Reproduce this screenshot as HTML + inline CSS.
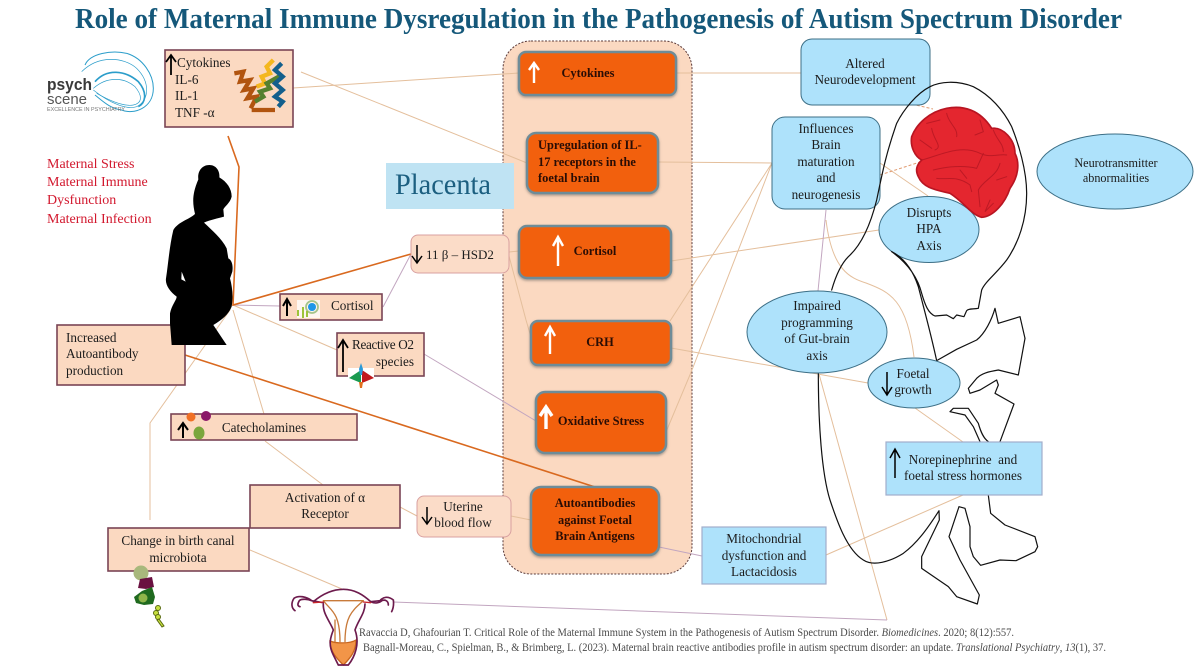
<!DOCTYPE html>
<html><head><meta charset="utf-8">
<style>
html,body{margin:0;padding:0;background:#fff}
svg{display:block}
text{font-family:"Liberation Serif",serif;font-size:13.2px;fill:#1c1c1c}
.c{text-anchor:middle}
.b{font-weight:bold;fill:#2a0d05;font-size:12.4px}
.r{fill:#d2182e;font-size:14px}
.ref{fill:#4a4a4a;font-size:11.5px}
.pe{fill:#fbd9c1;stroke:#7a4455;stroke-width:1.6}
.pr{fill:#fbdcc8;stroke:#d8a0a0;stroke-width:1}
.or{fill:#f2600e;stroke:#6e8c98;stroke-width:2.5;filter:url(#s)}
.bl{fill:#aee2fb;stroke:#3d6f86;stroke-width:1}
.bs{fill:#aee2fb;stroke:#a2aecb;stroke-width:1.2}
.l{fill:none;stroke:#e4bf9c;stroke-width:1}
.p{fill:none;stroke:#c2a6c0;stroke-width:1}
.o{fill:none;stroke:#d9691f;stroke-width:1.6}
.f{fill:none;stroke:#111;stroke-width:3.6;stroke-linejoin:round;stroke-linecap:round}
.ak{fill:none;stroke:#000;stroke-width:1.8}
.aw{fill:none;stroke:#fff;stroke-width:2.4}
.su{fill:none;stroke:#b01622;stroke-width:3;opacity:.75;stroke-linecap:round}
</style></head>
<body>
<svg width="1200" height="669" viewBox="0 0 1200 669" xmlns="http://www.w3.org/2000/svg">
<defs><filter id="s" x="-10%" y="-10%" width="120%" height="125%"><feDropShadow dx="0" dy="1.5" stdDeviation="1.2" flood-color="#555" flood-opacity=".5"/></filter></defs>

<text x="75" y="28" textLength="1047" lengthAdjust="spacingAndGlyphs" style="font-size:29px;font-weight:bold;fill:#15587a">Role of Maternal Immune Dysregulation in the Pathogenesis of Autism Spectrum Disorder</text>

<!-- placenta panel -->
<rect x="503" y="41" width="189" height="533" rx="28" fill="#fbd9c1" stroke="#5a3a3a" stroke-width="1" stroke-dasharray="2 1.5"/>

<!-- connectors -->
<path class="l" d="M293 88L519 73M301 72L527 163M676 73H801M658 162L772 163M671 261L879 230M509 252L519 251M509 256L526 320L531 337M670 321L772 163M666 432L692 370L772 163M671 348L868 383M233 305L337 350M233 310L264 414M265 441L323 485M230 310L150 423V520M400 507L417 516M511 516L531 520M250 550L342 589M887 620L819 374M826 555L963 495M915 408L963 442M880 163L928 196"/>
<path class="l" d="M826 220C832 270 850 278 866 283C890 292 907 300 914 357"/>
<path class="p" d="M233 305L280 306M383 307L411 254M424 354L536 421M659 547L702 556M393 602L887 620M826 210L818 291"/>
<path class="o" d="M228 136L239 167L233 305L411 254M185 355L595 487"/>
<path fill="none" stroke="#e09a70" stroke-width="1" stroke-dasharray="3 2" d="M880 175L920 162M907 103L933 109"/>

<!-- left boxes -->
<rect class="pe" x="165" y="50" width="128" height="77"/>
<rect class="pe" x="280" y="294" width="102" height="26"/>
<rect class="pe" x="57" y="325" width="128" height="60"/>
<rect class="pe" x="337" y="333" width="87" height="43"/>
<rect class="pe" x="171" y="414" width="186" height="26"/>
<rect class="pe" x="250" y="485" width="150" height="43"/>
<rect class="pe" x="108" y="528" width="141" height="43"/>
<rect class="pr" x="417" y="496" width="94" height="41" rx="7"/>
<rect class="pr" x="411" y="235" width="98" height="38" rx="7"/>

<text x="177" y="67">Cytokines</text><text x="175" y="84">IL-6</text><text x="175" y="100">IL-1</text><text x="175" y="117">TNF -α</text>
<path class="ak" d="M171 75V56M166 62L171 55L176 62"/>
<text x="331" y="310">Cortisol</text>
<path class="ak" d="M287 316V300M283 306L287 299L291 306" style="stroke-width:2"/>
<text x="66" y="342">Increased</text><text x="66" y="358">Autoantibody</text><text x="66" y="375">production</text>
<text x="352" y="349" textLength="62">Reactive O2</text><text x="414" y="366" text-anchor="end">species</text>
<path class="ak" d="M343 372V341M338 348L343 340L348 348"/>
<text class="c" x="264" y="432">Catecholamines</text>
<path class="ak" d="M183 438V424M178 430L183 423L188 430" style="stroke-width:2"/>
<text class="c" x="325" y="502">Activation of α</text><text class="c" x="325" y="518">Receptor</text>
<text class="c" x="178" y="545">Change in birth canal</text><text class="c" x="178" y="562">microbiota</text>
<text class="c" x="463" y="511">Uterine</text><text class="c" x="463" y="527">blood flow</text>
<path class="ak" d="M427 507V523M422 517L427 524L432 517" style="stroke-width:1.5"/>
<text x="426" y="259" style="font-size:13px">11 β – HSD2</text>
<path class="ak" d="M417 245V262M412 256L417 263L422 256" style="stroke-width:1.5"/>

<!-- red labels -->
<text class="r" x="47" y="168">Maternal Stress</text>
<text class="r" x="47" y="186">Maternal Immune</text>
<text class="r" x="47" y="204">Dysfunction</text>
<text class="r" x="47" y="223">Maternal Infection</text>

<!-- placenta label -->
<rect x="386" y="163" width="128" height="46" fill="#bfe3f3"/>
<text x="395" y="194" textLength="96" lengthAdjust="spacingAndGlyphs" style="font-size:30px;fill:#1c5f80">Placenta</text>

<!-- orange boxes -->
<rect class="or" x="519" y="52" width="157" height="43" rx="7"/>
<rect class="or" x="527" y="133" width="131" height="60" rx="9"/>
<rect class="or" x="519" y="226" width="152" height="52" rx="8"/>
<rect class="or" x="531" y="321" width="140" height="44" rx="7"/>
<rect class="or" x="536" y="392" width="130" height="61" rx="9"/>
<rect class="or" x="531" y="487" width="128" height="68" rx="10"/>
<text class="b c" x="588" y="77">Cytokines</text>
<text class="b" x="538" y="149">Upregulation of IL-</text><text class="b" x="538" y="166">17 receptors in the</text><text class="b" x="538" y="182">foetal brain</text>
<text class="b c" x="595" y="255">Cortisol</text>
<text class="b c" x="600" y="346">CRH</text>
<text class="b c" x="601" y="425">Oxidative Stress</text>
<text class="b c" x="595" y="507">Autoantibodies</text><text class="b c" x="595" y="524">against Foetal</text><text class="b c" x="595" y="540">Brain Antigens</text>
<path class="aw" d="M534 83V64M529 70L534 63L539 70"/>
<path class="aw" d="M558 266V238M553 246L558 237L563 246"/>
<path class="aw" d="M550 354V328M545 336L550 327L555 336"/>
<path class="aw" d="M546 429V408M540 416L546 407L552 416" style="stroke-width:3.4"/>

<!-- right boxes below outline -->
<rect class="bl" x="801" y="39" width="129" height="66" rx="11"/>
<rect class="bl" x="772" y="117" width="108" height="92" rx="13"/>
<ellipse class="bl" cx="1115" cy="171.500" rx="78" ry="37.500"/>
<ellipse class="bl" cx="929" cy="229.500" rx="50" ry="33"/>

<!-- foetus outline -->
<g transform="translate(740,30) scale(.33333)">
<path class="f" d="M275 780C285 745 300 705 325 680C370 640 395 570 410 510C425 440 435 380 470 280C490 240 530 190 570 170C600 155 650 150 700 170C750 195 790 240 815 290C835 340 860 420 860 490C860 570 835 640 800 690C770 730 735 755 725 780L715 835C700 838 685 835 680 842L672 860L650 855L640 866L620 855L585 858C565 850 555 825 545 790C535 750 510 705 455 665C495 685 520 725 535 770C550 830 570 900 590 992L650 958L710 930C735 910 755 870 765 835L775 880L840 860L855 925"/>
</g>
<g transform="translate(740,340) scale(.33333)">
<path class="f" d="M855 -5L835 105L775 90C745 95 725 100 710 115L685 145L690 160L720 150L770 120L775 135L765 160L822 192L780 305"/>
<path class="f" d="M630 215L640 205L685 205L715 250C722 275 730 295 745 305M630 215L675 225L700 260L720 305"/>
<path class="f" d="M745 466L752 520L795 555L885 590L893 620L885 635L828 662L780 660L722 676L700 650L690 620V560L675 505L657 500L627 590L660 660L718 765L712 792L650 770L625 740L545 685V650L598 540L597 512C560 570 530 610 490 640C450 665 400 680 370 660C320 630 290 540 270 480C245 400 235 250 235 100"/>
</g>

<!-- brain -->
<g transform="translate(900,100) scale(.33333)">
<path fill="#e4262f" stroke="#b81522" stroke-width="5" d="M35 110C50 70 90 35 140 25C190 15 240 30 275 85C310 80 345 120 345 160C360 190 355 230 330 265C315 310 280 350 245 352C215 345 190 305 150 280C110 270 70 265 55 230C45 210 50 195 65 180C45 170 30 140 35 110Z"/>
<path class="su" d="M65 180C110 170 180 130 240 160C270 175 300 160 320 165M140 40C145 70 175 85 170 110M95 85C100 120 130 140 105 150M240 60L250 95L225 105M80 70L120 60M60 120L95 145M280 90C290 120 310 130 310 155M100 210C140 200 190 195 230 205L250 160M110 235C140 240 170 225 210 255L215 275M300 190C290 230 250 240 235 270L240 320M270 300L255 335L280 310M180 210L200 235M320 230L290 240"/>
</g>

<!-- right nodes on top -->
<ellipse class="bl" cx="817" cy="332" rx="70" ry="41"/>
<ellipse class="bl" cx="914" cy="383" rx="46" ry="25"/>
<rect class="bs" x="886" y="442" width="156" height="53"/>
<rect class="bs" x="702" y="527" width="124" height="57"/>
<text class="c" x="865" y="68">Altered</text><text class="c" x="865" y="84">Neurodevelopment</text>
<text class="c" x="826" y="133">Influences</text><text class="c" x="826" y="149">Brain</text><text class="c" x="826" y="166">maturation</text><text class="c" x="826" y="182">and</text><text class="c" x="826" y="199">neurogenesis</text>
<text class="c" x="929" y="217">Disrupts</text><text class="c" x="929" y="233">HPA</text><text class="c" x="929" y="250">Axis</text>
<text class="c" x="1116" y="167" style="font-size:12.2px">Neurotransmitter</text><text class="c" x="1116" y="182" style="font-size:12.2px">abnormalities</text>
<text class="c" x="817" y="310">Impaired</text><text class="c" x="817" y="327">programming</text><text class="c" x="817" y="343">of Gut-brain</text><text class="c" x="817" y="360">axis</text>
<text class="c" x="913" y="378">Foetal</text><text class="c" x="913" y="394">growth</text>
<path class="ak" d="M887 372V394M882 387L887 395L892 387" style="stroke-width:1.5"/>
<text class="c" x="963" y="464">Norepinephrine&#160;&#160;and</text><text class="c" x="963" y="480">foetal stress hormones</text>
<path class="ak" d="M895 478V450M890 458L895 449L900 458" style="stroke-width:1.5"/>
<text class="c" x="764" y="543">Mitochondrial</text><text class="c" x="764" y="560">dysfunction and</text><text class="c" x="764" y="576">Lactacidosis</text>

<!-- silhouette -->
<g transform="translate(0,30) scale(.33333)">
<path fill="#000" d="M628 405C650 405 660 425 658 442C680 455 695 475 695 500C690 520 675 528 670 538L672 560C655 565 630 570 612 578C635 600 665 625 680 655L685 685C695 690 700 705 697 725L690 745C697 770 700 800 695 830C685 855 665 870 640 885L680 945L515 945L510 880L510 850C515 825 530 810 530 800C510 785 495 765 498 745C505 700 508 650 520 600C535 575 565 570 585 552C578 520 575 495 595 448C592 425 605 405 628 405Z"/>
<path fill="#fff" d="M545 725L557 755L544 748Z"/>
</g>

<!-- logo and protein -->
<g transform="translate(40,45) scale(.33333)">
<g fill="none" stroke-width="13" stroke-linejoin="miter">
<path stroke="#b1540f" d="M583 85L610 80L600 110L630 105L612 135L640 130L622 160L650 155L632 190M635 195L705 195"/>
<path stroke="#f4b71e" d="M650 125L675 115L665 95L690 85L680 65L700 45"/>
<path stroke="#55802e" d="M645 170L670 155L660 140L690 130L680 115L725 90"/>
<path stroke="#135f8c" d="M725 55L705 75L728 95L705 115L728 135L705 155L728 170L715 185"/>
</g>
<g fill="none" stroke="#2b9dca">
<path stroke-width="3" d="M135 60C150 25 215 15 260 25C310 40 340 90 340 130C340 190 280 210 245 195C210 190 190 170 165 150"/>
<path stroke-width="2" d="M125 80C175 30 250 35 290 70C330 110 330 165 290 185C260 195 210 175 160 135"/>
<path stroke-width="2" d="M160 130C200 95 250 95 285 125C310 155 305 175 280 180C250 185 205 165 170 145"/>
<path stroke-width="5" d="M165 110C200 70 255 75 295 110C325 145 315 175 295 185"/>
</g>
</g>
<text x="47" y="90" textLength="45" lengthAdjust="spacingAndGlyphs" style="font-family:'Liberation Sans',sans-serif;font-size:17px;font-weight:bold;fill:#3a3a3a">psych</text>
<text x="47" y="104" textLength="40" lengthAdjust="spacingAndGlyphs" style="font-family:'Liberation Sans',sans-serif;font-size:15px;fill:#555">scene</text>
<text x="47" y="111" textLength="78" lengthAdjust="spacingAndGlyphs" style="font-family:'Liberation Sans',sans-serif;font-size:5px;fill:#777">EXCELLENCE IN PSYCHIATRY</text>

<!-- small icons -->
<rect x="297" y="300" width="23" height="18" fill="#fff" opacity=".75"/>
<circle cx="312" cy="307" r="4" fill="#1e96e8"/><circle cx="312" cy="307" r="6" fill="none" stroke="#a6c48a" stroke-width="1.800"/>
<path d="M298 316V310M303 318V307M307 317V311" stroke="#9ec43a" stroke-width="2" fill="none"/>
<rect x="348" y="368" width="26" height="12" fill="#fff"/>
<path fill="#1a9a50" d="M349 378L361 370V383Z"/><path fill="#c2181c" d="M374 378L362 370V383Z"/><path fill="#2a9ad8" d="M359 369L361 363L363 369L362 375H360Z"/><path fill="#e0701e" d="M359 382H363L362 388H360Z"/>
<circle cx="191" cy="417" r="4.500" fill="#f07025"/><circle cx="206" cy="416" r="5" fill="#8a1868"/><ellipse cx="199" cy="433" rx="5.500" ry="6.500" fill="#7aa63c"/>
<circle cx="141" cy="573" r="7.500" fill="#a8b87c"/>
<path fill="#6a1040" d="M140 579L152 577L154 587L146 589L138 588Z"/>
<path fill="#1f6a1f" d="M134 597L142 591L152 587L155 597L153 604L144 605L136 603Z"/>
<circle cx="143" cy="598" r="4.500" fill="#8fb54a"/>
<g fill="#c8e040" stroke="#5a6b10" stroke-width="1"><circle cx="158" cy="608" r="2.500"/><circle cx="156" cy="613" r="2.500"/><circle cx="158" cy="617" r="2.500"/><path d="M159 619L164 626L162 627L157 620Z"/></g>

<!-- uterus -->
<g transform="translate(280,580) scale(.33333)" fill="none" stroke-linecap="round">
<path fill="#f29548" stroke="#c8651e" stroke-width="4" d="M150 183C165 190 210 192 228 180C228 215 210 235 190 255C170 235 150 215 150 183Z"/>
<path stroke="#c87a3a" stroke-width="4" d="M130 62H250M130 62C150 90 180 95 180 185M250 62C220 90 195 105 195 185M165 120V185"/>
<path stroke="#6d1b4d" stroke-width="5" d="M130 68L95 62C80 50 55 45 42 55C32 70 35 85 45 92M95 62C85 58 65 55 58 62C52 72 52 78 60 80M100 65C130 40 160 28 190 28C225 28 250 45 272 65L300 62C310 50 325 48 340 60C342 75 340 85 335 95M272 65C285 72 300 68 305 62C315 58 325 62 325 75"/>
<path stroke="#6d1b4d" stroke-width="5" d="M130 72C128 100 150 125 160 150C150 175 145 195 160 225L175 255H205C225 230 240 190 225 150C235 120 255 100 255 72"/>
<path stroke="#c8252a" stroke-width="4" d="M100 68L130 66M250 66L272 68"/>
</g>

<!-- references -->
<text class="ref" x="359" y="636" textLength="655" lengthAdjust="spacingAndGlyphs">Ravaccia D, Ghafourian T. Critical Role of the Maternal Immune System in the Pathogenesis of Autism Spectrum Disorder. <tspan font-style="italic">Biomedicines</tspan>. 2020; 8(12):557.</text>
<text class="ref" x="363" y="651" textLength="743" lengthAdjust="spacingAndGlyphs">Bagnall-Moreau, C., Spielman, B., &amp; Brimberg, L. (2023). Maternal brain reactive antibodies profile in autism spectrum disorder: an update. <tspan font-style="italic">Translational Psychiatry</tspan>, <tspan font-style="italic">13</tspan>(1), 37.</text>
</svg>
</body></html>
